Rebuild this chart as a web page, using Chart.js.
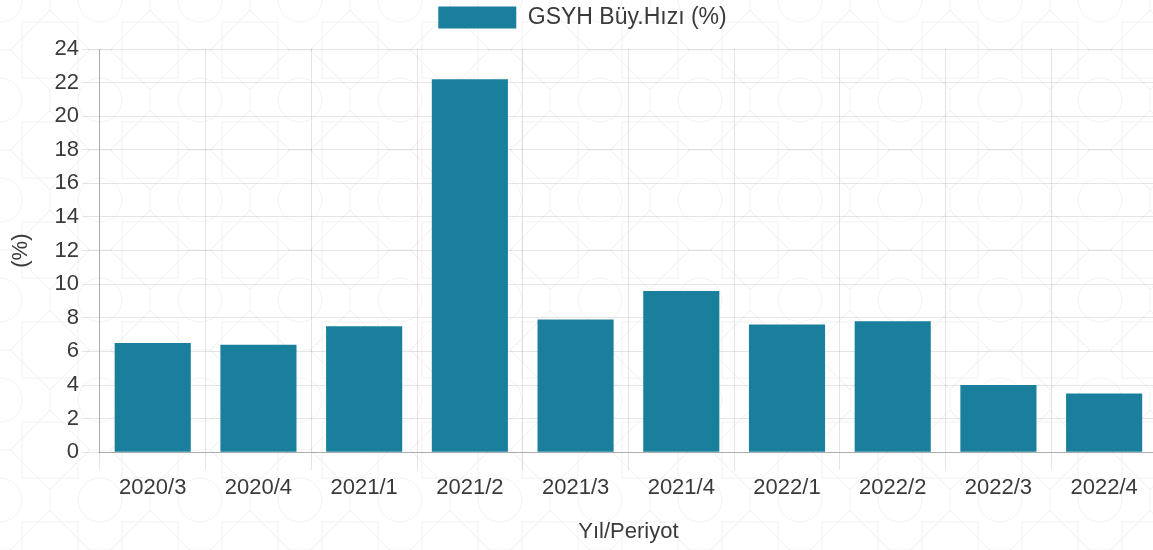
<!DOCTYPE html>
<html>
<head>
<meta charset="utf-8">
<script src="https://cdn.jsdelivr.net/npm/chart.js@4/dist/chart.umd.min.js"></script>
<style>
    html, body { margin: 0; padding: 0; background: #fff; }
    .frame {
        width: 1153px; height: 550px; overflow: hidden; position: relative;
        /* soluk geometrik zemin deseni */
        background-image: url("data:image/svg+xml,%3Csvg xmlns='http://www.w3.org/2000/svg' width='100' height='100'%3E%3Cg fill='none' stroke='%23f2f2f2' stroke-width='1'%3E%3Crect x='22' y='22' width='56' height='56'/%3E%3Crect x='22' y='22' width='56' height='56' transform='rotate(45 50 50)'/%3E%3Ccircle cx='0' cy='0' r='22'/%3E%3Ccircle cx='100' cy='0' r='22'/%3E%3Ccircle cx='0' cy='100' r='22'/%3E%3Ccircle cx='100' cy='100' r='22'/%3E%3Cpath d='M0 50H12M88 50H100M50 0V12M50 88V100'/%3E%3C/g%3E%3C/svg%3E");
        background-size: 100px 100px;
    }
    /* grafik sağdan biraz taşıyor, referanstaki gibi */
    .chart-box { width: 1157px; height: 550px; position: relative; }
</style>
</head>
<body>
<div class="frame"><div class="chart-box"><canvas id="gdpChart"></canvas></div></div>
<script>
// çeyreklik büyüme verisi
const periods = ['2020/3', '2020/4', '2021/1', '2021/2', '2021/3', '2021/4', '2022/1', '2022/2', '2022/3', '2022/4'];
const growthRates = [6.5, 6.4, 7.5, 22.2, 7.9, 9.6, 7.6, 7.8, 4.0, 3.5];
const seriesLabel = 'GSYH Büy.Hızı (%)';
const xTitle = 'Yıl/Periyot';
const yTitle = '(%)';

document.addEventListener('DOMContentLoaded', () => {
    const ctx = document.getElementById('gdpChart');
    const textColor = '#3a3a3a';
    const gridColor = 'rgba(0,0,0,0.1)';
    const fontFamily = 'Arial, "Liberation Sans", sans-serif';
    const font = { family: fontFamily, size: 22 };

    // legend ile grafik arasına biraz boşluk ekle
    const legendGap = {
        id: 'legendGap',
        beforeInit(chart) {
            const origFit = chart.legend.fit;
            chart.legend.fit = function () {
                origFit.bind(chart.legend)();
                this.height += 10;
            };
        }
    };

    new Chart(ctx, {
        type: 'bar',
        data: {
            labels: periods,
            datasets: [{
                label: seriesLabel,
                data: growthRates,
                backgroundColor: '#1a7f9c',
                borderColor: '#1a7f9c',
                borderWidth: 0
            }]
        },
        options: {
            responsive: true,
            maintainAspectRatio: false,
            animation: false,
            layout: { padding: { left: 8, right: 0, top: 0, bottom: 5 } },
            plugins: {
                legend: {
                    position: 'top',
                    labels: {
                        color: textColor,
                        font: { family: fontFamily, size: 23 },
                        boxWidth: 78,
                        boxHeight: 22,
                        padding: 6
                    }
                },
                tooltip: { enabled: false }
            },
            scales: {
                x: {
                    grid: { color: gridColor, offset: true, tickLength: 18 },
                    border: { color: 'rgba(0,0,0,0.25)' },
                    ticks: {
                        color: textColor,
                        font: font,
                        padding: 5
                    },
                    title: {
                        display: true,
                        text: xTitle,
                        color: textColor,
                        font: font,
                        padding: { top: 12, bottom: 0 }
                    }
                },
                y: {
                    min: 0,
                    max: 24,
                    grid: { color: gridColor, tickLength: 18 },
                    border: { color: 'rgba(0,0,0,0.25)' },
                    ticks: {
                        stepSize: 2,
                        color: textColor,
                        font: font,
                        padding: 3
                    },
                    title: {
                        display: true,
                        text: yTitle,
                        color: textColor,
                        font: font,
                        padding: { top: 0, bottom: 17 }
                    }
                }
            }
        },
        plugins: [legendGap]
    });
});
</script>
</body>
</html>
